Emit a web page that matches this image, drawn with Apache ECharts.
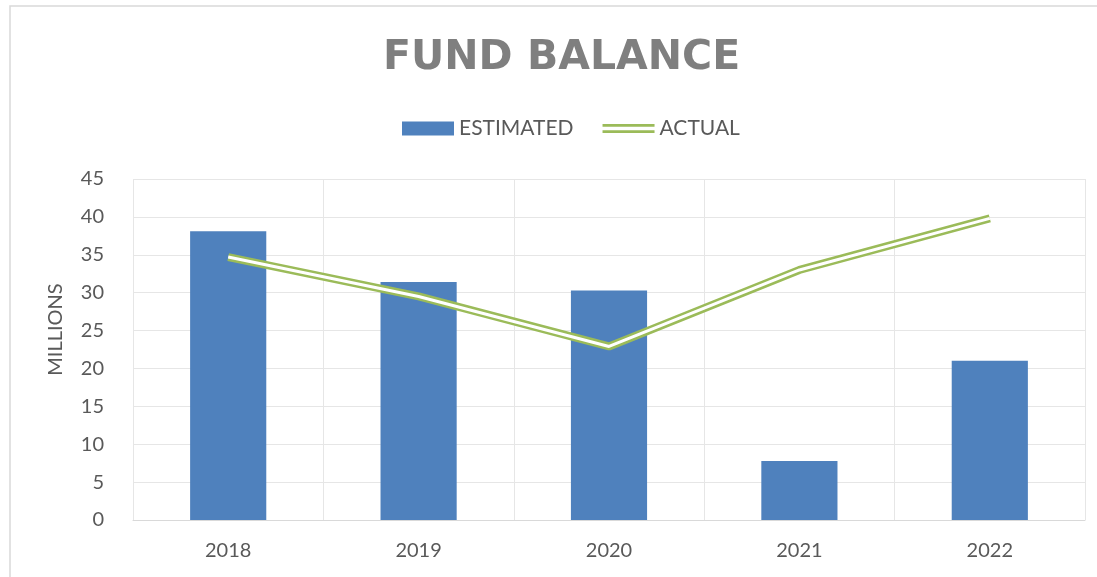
<!DOCTYPE html>
<html>
<head>
<meta charset="utf-8">
<script src="https://cdn.jsdelivr.net/npm/echarts@6/dist/echarts.min.js"></script>
<style>
  html, body { margin: 0; padding: 0; background: #fff; }
  #grafica { width: 1097px; height: 577px; }
</style>
</head>
<body>
<div id="grafica"></div>
<script>
var years = ["2018", "2019", "2020", "2021", "2022"];
var estimated = [38.1, 31.4, 30.3, 7.8, 21.0];
var actual = [34.7, 29.5, 22.9, 33.0, 39.8];
var yTicks = { min: 0, max: 45, interval: 5 };

var colores = {
  barras: "#4f81bd",
  linea: "#9bbb59",
  texto: "#595959",
  titulo: "#7f7f7f",
  rejilla: "#e6e6e6",
};

document.addEventListener("DOMContentLoaded", function () {
  cargarGrafica();
});

function cargarGrafica() {
  var chart = echarts.init(document.getElementById("grafica"));
  var option = {
    animation: false,
    backgroundColor: "#fff",
    graphic: [
      {
        type: "rect",
        shape: { x: 10, y: 6, width: 1200, height: 700 },
        style: { fill: "none", stroke: "#d9d9d9", lineWidth: 1.5 },
        silent: true,
      },
    ],
    title: {
      text: "FUND BALANCE",
      left: 378,
      top: 33,
      textStyle: {
        fontFamily: "DejaVu Sans",
        fontWeight: "bold",
        fontSize: 41,
        color: colores.titulo,
      },
    },
    legend: {
      left: 397,
      top: 113,
      itemWidth: 52,
      itemHeight: 14,
      itemGap: 29,
      textStyle: { fontFamily: "Lato", fontSize: 21, color: colores.texto },
      data: [
        { name: "ESTIMATED", icon: "rect" },
        {
          name: "ACTUAL",
          icon: "path://M0,0L0,0M0,2.5H52V5.3H0ZM0,8.7H52V11.5H0ZM0,14L0,14",
        },
      ],
    },
    grid: { left: 133, right: 12, top: 179, bottom: 57 },
    xAxis: {
      type: "category",
      data: years,
      axisLine: { lineStyle: { color: "#d9d9d9" } },
      axisTick: { show: false },
      axisLabel: { color: colores.texto, fontFamily: "Lato", fontSize: 20, margin: 21 },
      splitLine: { show: true, lineStyle: { color: colores.rejilla } },
    },
    yAxis: {
      type: "value",
      min: yTicks.min,
      max: yTicks.max,
      interval: yTicks.interval,
      name: "MILLIONS",
      nameLocation: "middle",
      nameGap: 67,
      nameTextStyle: {
        color: colores.texto,
        fontFamily: "Lato",
        fontSize: 20,
        padding: [0, 0, 0, 40],
      },
      axisLine: { show: false },
      axisTick: { show: false },
      axisLabel: { color: colores.texto, fontFamily: "Lato", fontSize: 20, margin: 29 },
      splitLine: { lineStyle: { color: colores.rejilla } },
    },
    series: [
      {
        name: "ESTIMATED",
        type: "bar",
        barCategoryGap: "60%",
        data: estimated,
        itemStyle: { color: colores.barras },
      },
      {
        name: "ACTUAL",
        type: "line",
        data: actual,
        symbol: "none",
        color: colores.linea,
        lineStyle: { color: colores.linea, width: 8 },
      },
      {
        name: "ACTUAL_inner",
        type: "line",
        data: actual,
        symbol: "none",
        lineStyle: { color: "#ffffff", width: 3 },
      },
    ],
  };
  chart.setOption(option);
}
</script>
</body>
</html>
